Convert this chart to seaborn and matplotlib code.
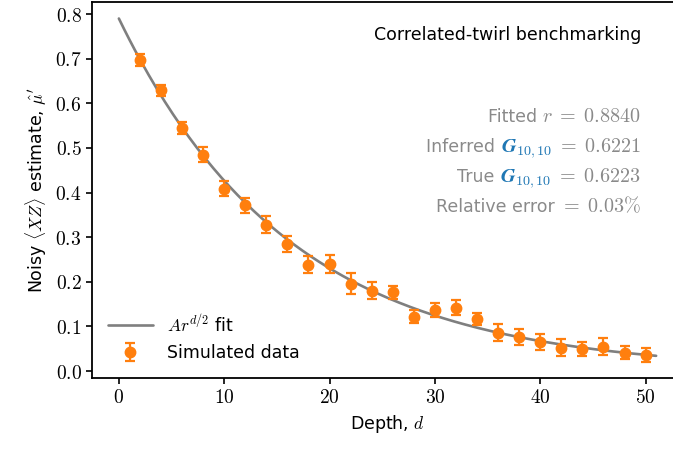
import numpy as np
import pandas as pd
import matplotlib
matplotlib.use('Agg')
import matplotlib.pyplot as plt
import seaborn as sns
from matplotlib.ticker import FuncFormatter

# ── Data ──────────────────────────────────────────────────────────────────────
depth = [2, 4, 6, 8, 10, 12, 14, 16, 18, 20, 22, 24, 26,
         28, 30, 32, 34, 36, 38, 40, 42, 44, 46, 48, 50]
mu_hat = [0.697, 0.629, 0.544, 0.485, 0.409, 0.371, 0.328, 0.285, 0.238, 0.240,
          0.196, 0.180, 0.176, 0.122, 0.137, 0.142, 0.116, 0.086, 0.077, 0.064,
          0.052, 0.049, 0.054, 0.041, 0.036]
mu_err = [0.013, 0.013, 0.013, 0.017, 0.017, 0.016, 0.019, 0.018, 0.019, 0.020,
          0.023, 0.019, 0.015, 0.015, 0.016, 0.017, 0.014, 0.019, 0.018, 0.018,
          0.019, 0.016, 0.019, 0.015, 0.016]

# fitted model A r^(d/2)
fit_A = 0.79
fit_r = 0.8840
fit_depth_max = 51
inferred_G = 0.6221
true_G = 0.6223
rel_err = 0.03

ORANGE = '#ff7f0e'
GREY = '#7f7f7f'
BLUE = '#1f77b4'
TXT_GREY = '#8a8a8a'
TXT_SIZE = 12.5
MATH_SIZE = 14.5

sns.set_theme(style='ticks')
plt.rcParams['font.family'] = ['DejaVu Sans']
plt.rcParams['mathtext.fontset'] = 'cm'

fig = plt.figure(figsize=(6.73, 4.51), dpi=100)
ax = fig.add_axes([92 / 673, 1 - 377.7 / 451, (683 - 92) / 673, (377.7 - 2) / 451])

d_fit = np.linspace(0, fit_depth_max, 200)
fit_df = pd.DataFrame({'d': d_fit, 'mu': fit_A * fit_r ** (d_fit / 2)})
sns.lineplot(data=fit_df, x='d', y='mu', color=GREY, lw=1.9, ax=ax,
             label=r'$Ar^{d/2}$ fit')
ax.errorbar(depth, mu_hat, yerr=mu_err, fmt='o', color=ORANGE, ms=7.5,
            elinewidth=1.6, capsize=3.5, capthick=1.6, label='Simulated data')

ax.set_xlim(-2.55, 53.55)
ax.set_ylim(-0.015, 0.827)
ax.set_xticks([0, 10, 20, 30, 40, 50])
ax.set_yticks(np.arange(0, 0.81, 0.1))
ax.xaxis.set_major_formatter(FuncFormatter(lambda v, p: f'${v:.0f}$'))
ax.yaxis.set_major_formatter(FuncFormatter(lambda v, p: f'${v:.1f}$'))
ax.tick_params(labelsize=14, width=1.2, length=4, colors='black')
for s in ax.spines.values():
    s.set_linewidth(1.3)
    s.set_color('black')
ax.spines['right'].set_visible(False)

ax.set_xlabel(r'Depth, $d$', fontsize=TXT_SIZE, color='black')
ax.set_ylabel(r"Noisy $\langle XZ\rangle$ estimate, $\hat{\mu}'$",
              fontsize=TXT_SIZE, color='black')

leg = ax.legend(loc='lower left', frameon=False, fontsize=TXT_SIZE,
                bbox_to_anchor=(0.0, 0.0), handlelength=2.6)
for t in leg.get_texts():
    t.set_color('black')

# annotation block (right aligned)
xr = (641 - 92) / (683 - 92)
ax.text(xr, 1 - (35 - 2) / 375.7, 'Correlated-twirl benchmarking',
        transform=ax.transAxes, ha='right', va='center', fontsize=TXT_SIZE,
        color='black')

fig.canvas.draw()
renderer = fig.canvas.get_renderer()
inv = ax.transAxes.inverted()


def place_pieces(pieces, y):
    x = xr
    for txt, col in reversed(pieces):
        size = MATH_SIZE if txt.startswith('$') else TXT_SIZE
        t = ax.text(x, y, txt, transform=ax.transAxes, ha='right', va='baseline',
                    fontsize=size, color=col)
        bb = t.get_window_extent(renderer)
        x = inv.transform((bb.x0, bb.y0))[0]


rows_y = [122, 152, 182, 212]
place_pieces([('Fitted ', TXT_GREY), (rf'$r\;=\;{fit_r:.4f}$', TXT_GREY)],
             1 - (rows_y[0] - 2) / 375.7)
place_pieces([('Inferred ', TXT_GREY), (r'$\mathbfit{G}_{10,10}$', BLUE),
              (rf'$\;=\;{inferred_G:.4f}$', TXT_GREY)], 1 - (rows_y[1] - 2) / 375.7)
place_pieces([('True ', TXT_GREY), (r'$\mathbfit{G}_{10,10}$', BLUE),
              (rf'$\;=\;{true_G:.4f}$', TXT_GREY)], 1 - (rows_y[2] - 2) / 375.7)
place_pieces([('Relative error ', TXT_GREY), (rf'$=\;{rel_err:.2f}\%$', TXT_GREY)],
             1 - (rows_y[3] - 2) / 375.7)

fig.savefig('out.png', dpi=100)
